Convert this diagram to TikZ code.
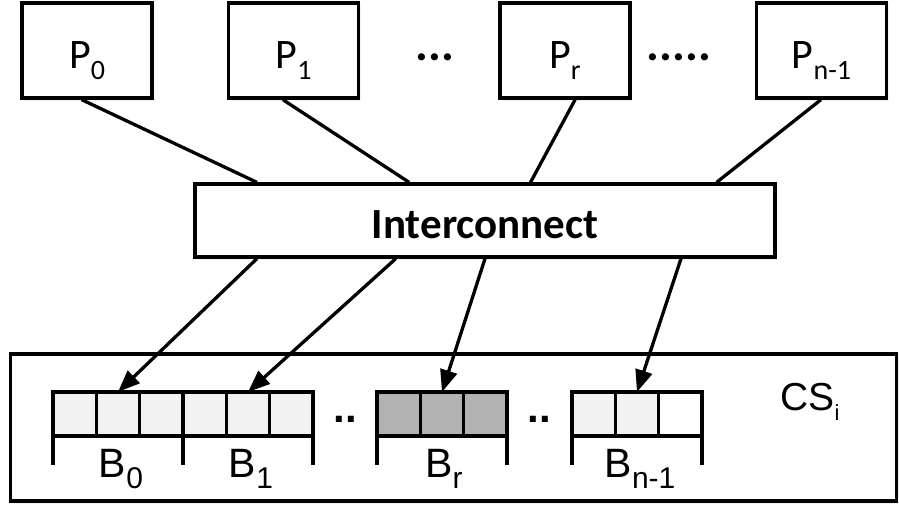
\documentclass[tikz,border=0pt]{standalone}
\usepackage{fontspec}
\setmainfont{Liberation Sans}
\newfontfamily\calibri{Carlito}
\usetikzlibrary{arrows.meta,calc,shadows}

% subscript set lower than the usual one
\newcommand\lowsub[3]{\raisebox{-#1}{\fontsize{#2}{#2}\selectfont #3}}

\definecolor{cellpale}{gray}{0.95}
\definecolor{cellmid}{gray}{0.70}

\begin{document}
\begin{tikzpicture}[x=1pt,y=-1pt,
  softshadow/.style={drop shadow={opacity=0.12,shadow xshift=2pt,shadow yshift=-3pt}},
  box/.style={draw,line width=3.3pt,fill=white,inner sep=0pt,softshadow},
  pbox/.style={box,minimum width=130pt,minimum height=95pt,
    text height=35pt,text depth=0pt,font=\calibri\fontsize{42}{42}\selectfont},
  link/.style={line width=3.3pt},
  feed/.style={line width=3.3pt,-{Triangle[length=22pt,width=17pt]}},
  cell/.style={draw,line width=3.3pt,minimum width=43.33pt,minimum height=44pt,
    inner sep=0pt,outer sep=0pt,anchor=north west},
  blabel/.style={anchor=base,font=\fontsize{41}{41}\selectfont},
  gap/.style={font=\calibri\bfseries\fontsize{48}{48}\selectfont,inner sep=0pt},
  bgap/.style={font=\bfseries\fontsize{42}{42}\selectfont,inner sep=0pt}
]
\useasboundingbox (0,0) rectangle (899,504);

% cache store with its banks
\node[box,minimum width=886pt,minimum height=147pt] (cs) at (453.5,427.5) {};
\node[anchor=base,font=\fontsize{39}{39}\selectfont] (csl) at (810,410) {CS\lowsub{10pt}{22}{i}};

% processors
\node[pbox] (p0) at (87,50.5) {P\lowsub{11pt}{28}{0}};
\node[pbox] (p1) at (293.5,50.5) {P\lowsub{11pt}{28}{1}};
\node[pbox] (pr) at (565,50.5) {P\lowsub{11pt}{28}{r}};
\node[pbox] (pn) at (821.5,50.5) {P\lowsub{11pt}{28}{n-1}};
\node[gap] (d1) at (435,57) {...};
\node[gap] (d2) at (679,57) {.....};

% interconnect
\node[box,minimum width=580pt,minimum height=73pt,text height=35pt,text depth=0pt,
  font=\calibri\bfseries\fontsize{43}{43}\selectfont] (ic) at (485,220.5) {Interconnect};

% banks of cells
\foreach \i in {1,2,3} {
  \node[cell,fill=cellpale] (b0-\i) at ({53+43.33*(\i-1)},392) {};
  \node[cell,fill=cellpale] (b1-\i) at ({183+43.33*(\i-1)},392) {};
  \node[cell,fill=cellmid] (br-\i) at ({377+43.33*(\i-1)},392) {};
}
\node[cell,fill=cellpale] (bn-1) at (572,392) {};
\node[cell,fill=cellpale] (bn-2) at (615.33,392) {};
\node[cell,fill=white] (bn-3) at (658.67,392) {};

% brackets under the banks
\foreach \c in {b0-1,b1-1,br-1,bn-1} \draw[link] (\c.south west) -- ++(0,29);
\foreach \c in {b0-3,b1-3,br-3,bn-3} \draw[link] (\c.south east) -- ++(0,29);

\node[blabel] (lb0) at (121,477) {B\lowsub{11pt}{30}{0}};
\node[blabel] (lb1) at (251,477) {B\lowsub{11pt}{30}{1}};
\node[blabel] (lbr) at (444,477) {B\lowsub{11pt}{30}{r}};
\node[blabel] (lbn) at (640,477) {B\lowsub{11pt}{30}{n-1}};

\node[bgap] (e1) at (345,419) {..};
\node[bgap] (e2) at (539,419) {..};

% processor links
\draw[link] ($(p0.south west)!0.46!(p0.south east)$) -- ($(ic.north west)!0.109!(ic.north east)$);
\draw[link] ($(p1.south west)!0.42!(p1.south east)$) -- ($(ic.north west)!0.37!(ic.north east)$);
\draw[link] ($(pr.south west)!0.576!(pr.south east)$) -- ($(ic.north west)!0.578!(ic.north east)$);
\draw[link] ($(pn.south west)!0.496!(pn.south east)$) -- ($(ic.north west)!0.897!(ic.north east)$);

% links into the banks
\draw[feed] ($(ic.south west)!0.109!(ic.south east)$) -- (b0-2.north);
\draw[feed] ($(ic.south west)!0.347!(ic.south east)$) -- (b1-2.north);
\draw[feed] ($(ic.south west)!0.5!(ic.south east)$) -- (br-2.north);
\draw[feed] ($(ic.south west)!0.836!(ic.south east)$) -- (bn-2.north);
\end{tikzpicture}
\end{document}
